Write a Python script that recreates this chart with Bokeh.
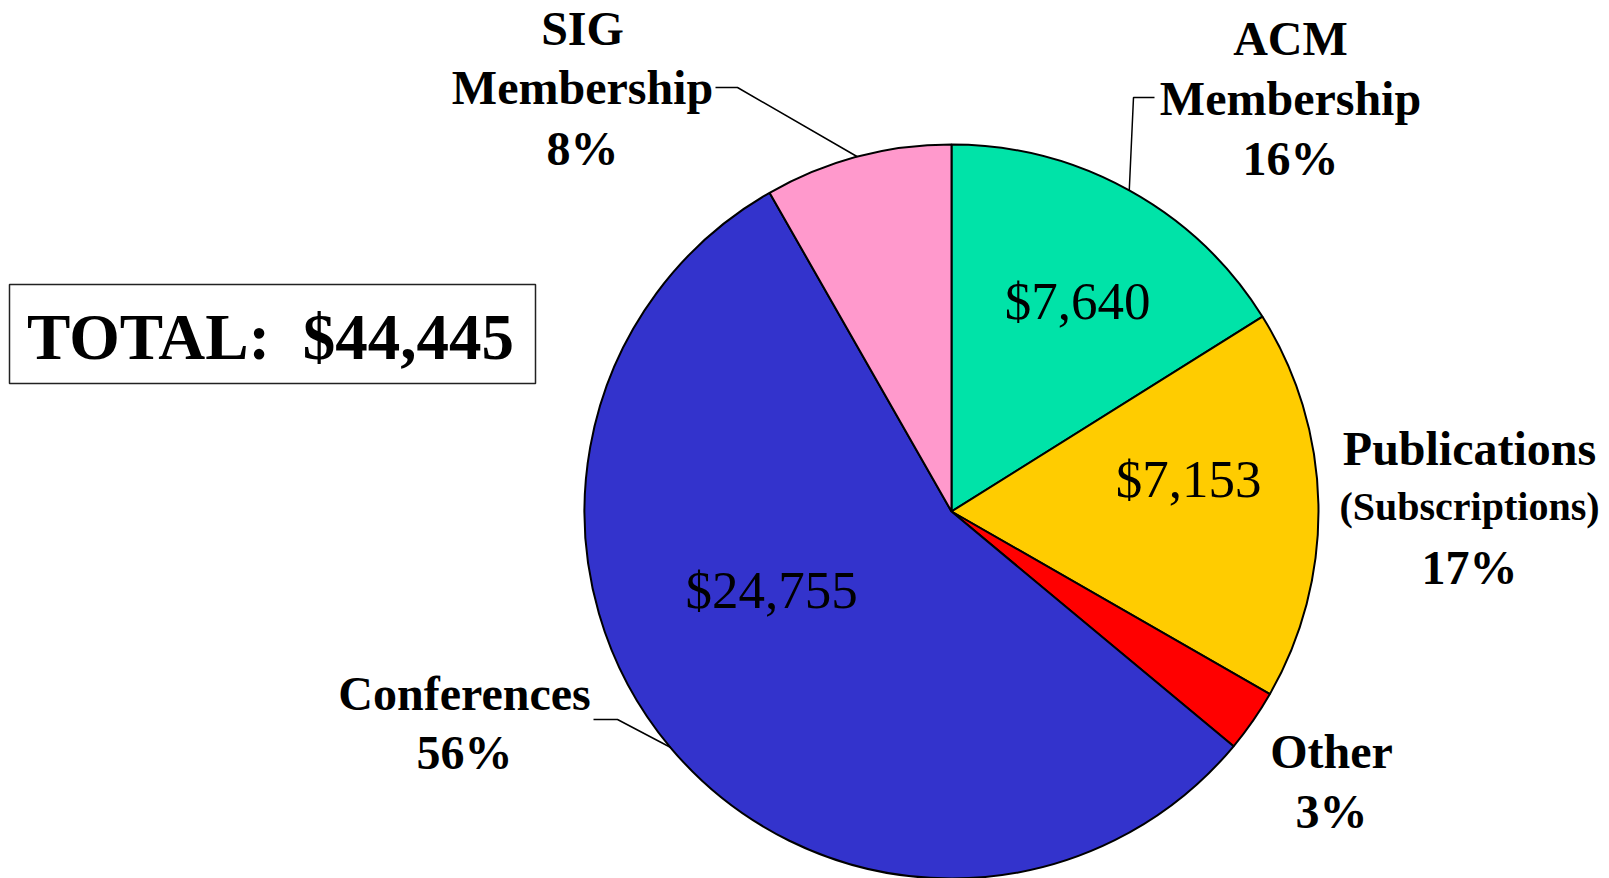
import math
from bokeh.plotting import figure
from bokeh.models import Range1d, ColumnDataSource
from bokeh.core.properties import value
from bokeh.embed import file_html
from bokeh.resources import INLINE

# ---- data (clockwise from 12 o'clock) ----
categories = ["ACM Membership", "Publications", "Other", "Conferences", "SIG Membership"]
amounts = [7153, 7640, 1228, 24755, 3669]          # slice sizes
dollar_labels = ["$7,640", "$7,153", None, "$24,755", None]
pct_labels = ["16%", "17%", "3%", "56%", "8%"]
name_lines = [["ACM", "Membership"], ["Publications", "(Subscriptions)"], ["Other"],
              ["Conferences"], ["SIG", "Membership"]]
total_label = "TOTAL:\u00a0 $44,445"
colors = ["#00E3A8", "#FFCC00", "#FF0000", "#3333CC", "#FF99CC"]

# ---- layout (screen px, y measured from top) ----
W, H = 1609, 878
CX, CY, R = 951, 511, 367
TXT_SHIFT = 15   # renderer baseline correction

def Y(y):
    return H - y

def TY(y):
    return H - (y - TXT_SHIFT)

p = figure(width=W, height=H, output_backend="svg", toolbar_location=None,
           x_range=Range1d(0, W), y_range=Range1d(0, H), min_border=0)
p.axis.visible = False
p.grid.visible = False
p.outline_line_color = None
p.background_fill_color = "white"
p.border_fill_color = "white"

total = float(sum(amounts))
starts, ends, mids = [], [], []
cum = 0.0
for a in amounts:
    s = cum / total
    cum += a
    e = cum / total
    starts.append(math.pi / 2 - e * 2 * math.pi)
    ends.append(math.pi / 2 - s * 2 * math.pi)
    mids.append(math.pi / 2 - (s + e) / 2 * 2 * math.pi)

src = ColumnDataSource(dict(start=starts, end=ends, color=colors,
                            x=[CX] * 5, y=[Y(CY)] * 5))
p.wedge(x="x", y="y", radius=R, start_angle="start", end_angle="end",
        fill_color="color", line_color="black", line_width=2, source=src,
        direction="anticlock")

font = value("Liberation Serif")

# dollar labels inside slices
dollar_pos = [(1077, 315), (1188, 493), None, (771, 604), None]
for lab, pos in zip(dollar_labels, dollar_pos):
    if lab is None:
        continue
    p.text(x=[pos[0]], y=[TY(pos[1])], text=[lab], text_font=font,
           text_font_size="53px", text_align="center", text_baseline="alphabetic",
           text_color="black")

# outside name / percent labels: (center x, list of baselines), font sizes per line
label_layout = [
    (1290, [53, 113, 173], ["48px", "48px", "48px"]),
    (1469, [463, 521, 582], ["48px", "40px", "48px"]),
    (1331, [766, 826], ["48px", "48px"]),
    (464, [708, 767], ["48px", "48px"]),
    (582, [43, 102, 163], ["48px", "48px", "48px"]),
]
for names, pct, (lx, bases, sizes) in zip(name_lines, pct_labels, label_layout):
    lines = names + [pct]
    for t, b, fs in zip(lines, bases, sizes):
        p.text(x=[lx], y=[TY(b)], text=[t], text_font=font, text_font_style="bold",
               text_font_size=fs, text_align="center", text_baseline="alphabetic",
               text_color="black")

# leader lines: label-side elbow points, ending at slice mid-angle on the rim
leaders = {
    0: [(1154, 97), (1133, 97)],
    3: [(593, 719), (617, 719)],
    4: [(715, 87), (737, 87)],
}
for idx, pts in leaders.items():
    ex = CX + R * math.cos(mids[idx])
    ey = Y(CY) + R * math.sin(mids[idx])
    xs = [q[0] for q in pts] + [ex]
    ys = [Y(q[1]) for q in pts] + [ey]
    p.line(xs, ys, line_color="black", line_width=1.5)

# total box
p.quad(left=[9], right=[535], top=[Y(284)], bottom=[Y(383)], fill_color="white",
       line_color="#222222", line_width=1.5)
p.text(x=[270], y=[TY(351)], text=[total_label], text_font=font, text_font_style="bold",
       text_font_size="65px", text_align="center", text_baseline="alphabetic",
       text_color="black")

open("out.html", "w").write(file_html(p, INLINE))
